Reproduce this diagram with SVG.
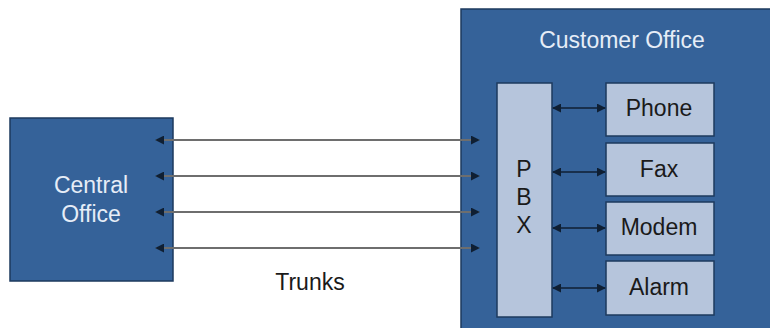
<svg xmlns="http://www.w3.org/2000/svg" width="770" height="328" viewBox="0 0 770 328">
<style>
.big{fill:#356299;stroke:#1d3a5e;stroke-width:1.5}
.light{fill:#b6c5dc;stroke:#1d3a5e;stroke-width:1.5}
.wt{font-family:"Liberation Sans",Arial,sans-serif;font-size:23px;fill:#e6edf7;text-anchor:middle}
.dk{font-family:"Liberation Sans",Arial,sans-serif;font-size:23px;fill:#1a1a1a;text-anchor:middle}
.trunk{stroke:#6e6e6e;stroke-width:2;fill:none;marker-start:url(#ah);marker-end:url(#ah)}
.inner{stroke:#0f1f33;stroke-width:1.5;fill:none;marker-start:url(#ah);marker-end:url(#ah)}
</style>
<defs>
<marker id="ah" viewBox="0 0 10 10" refX="9" refY="5" markerWidth="9" markerHeight="9" markerUnits="userSpaceOnUse" orient="auto-start-reverse">
<path d="M0,0 L10,5 L0,10 z" fill="#0f1f33"/>
</marker>
</defs>
<rect width="770" height="328" fill="#ffffff"/>
<g id="central-office">
<rect class="big" x="10" y="118" width="163" height="163"/>
<text class="wt" x="91" y="193">Central</text>
<text class="wt" x="91" y="222">Office</text>
</g>
<g id="customer-office">
<rect class="big" x="461" y="9" width="320" height="330"/>
<text class="wt" x="622" y="48">Customer Office</text>
</g>
<g id="pbx">
<rect class="light" x="497" y="83" width="55" height="234"/>
<text class="dk" x="524" y="177">P</text>
<text class="dk" x="524" y="205">B</text>
<text class="dk" x="524" y="233">X</text>
</g>
<g id="phone">
<rect class="light" x="606" y="83" width="108" height="53"/>
<text class="dk" x="659" y="116">Phone</text>
</g>
<g id="fax">
<rect class="light" x="606" y="143" width="108" height="53"/>
<text class="dk" x="659" y="177">Fax</text>
</g>
<g id="modem">
<rect class="light" x="606" y="202" width="108" height="53"/>
<text class="dk" x="659" y="235">Modem</text>
</g>
<g id="alarm">
<rect class="light" x="606" y="261" width="108" height="54"/>
<text class="dk" x="659" y="295">Alarm</text>
</g>
<g id="connectors">
<line class="trunk" x1="156" y1="140" x2="479" y2="140"/>
<line class="trunk" x1="156" y1="176" x2="479" y2="176"/>
<line class="trunk" x1="156" y1="212" x2="479" y2="212"/>
<line class="trunk" x1="156" y1="248" x2="479" y2="248"/>
<line class="inner" x1="553" y1="108" x2="605" y2="108"/>
<line class="inner" x1="553" y1="172" x2="605" y2="172"/>
<line class="inner" x1="553" y1="228" x2="605" y2="228"/>
<line class="inner" x1="553" y1="288" x2="605" y2="288"/>
</g>
<text x="310" y="290" style="font-family:'Liberation Sans',Arial,sans-serif;font-size:23px;fill:#1a1a1a;text-anchor:middle">Trunks</text>
</svg>
